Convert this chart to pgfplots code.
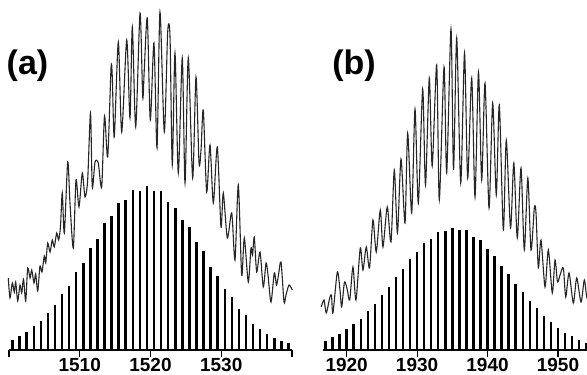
\documentclass[border=0pt]{standalone}
\usepackage{fontspec}
\setmainfont{Liberation Sans}
\usepackage{pgfplots}
\pgfplotsset{compat=1.18}
\pgfplotsset{
  panel/.style={
    scale only axis, height=350pt, ymin=0, ymax=350,
    anchor=south west, clip=false,
    axis y line=none, axis x line=bottom,
    x axis line style={-, line width=1.1pt},
    tick align=outside, major tick length=7pt,
    xtick style={line width=1.1pt, black},
    minor tick num=0,
    /pgf/number format/assume math mode=true,
    /pgf/number format/1000 sep={},
    xticklabel style={font=\fontsize{19}{22}\selectfont\bfseries, inner sep=0pt, yshift=-1pt},
  },
  trace/.style={black!85, line width=1.1pt, smooth, tension=0.45},
  sticks/.style={ycomb, black, line width=2.5pt},
}
\begin{document}
\begin{tikzpicture}
\useasboundingbox (0,0) rectangle (587pt,375pt);
% ---------------- panel (a)
\begin{axis}[panel, at={(9pt,25pt)}, width=283pt, xmin=1500, xmax=1540,
  xtick={1510,1520,1530}, extra x ticks={1500,1540}, extra x tick labels={}]
\addplot[sticks] coordinates {
(1500.5,10) (1501.5,14) (1502.5,18.3) (1503.5,24) (1504.5,28.7) (1505.5,37.3)
(1506.5,44.7) (1507.5,55.7) (1508.5,64.3) (1509.5,77.7) (1510.5,87) (1511.5,102)
(1512.5,111.3) (1513.5,126.7) (1514.5,134) (1515.5,146.7) (1516.5,150) (1517.5,159.7)
(1518.5,159) (1519.5,164.3) (1520.5,159) (1521.5,159) (1522.5,147.7) (1523.5,142)
(1524.5,130.3) (1525.5,123) (1526.5,107.7) (1527.5,99.3) (1528.5,83) (1529.5,74)
(1530.5,61) (1531.5,53) (1532.5,41.3) (1533.5,34.7) (1534.5,25.7) (1535.5,21)
(1536.5,15.7) (1537.5,12.3) (1538.5,9) (1539.5,6.7)};
\addplot[trace] coordinates {
(1499.90,72) (1500.14,52) (1500.47,67) (1500.75,58) (1500.95,68) (1501.23,49)
(1501.55,65) (1501.80,57) (1502.05,71) (1502.36,49) (1502.64,82) (1502.97,72)
(1503.21,80) (1503.53,67) (1503.77,76) (1504.06,59) (1504.38,84) (1504.66,78)
(1504.99,94) (1505.19,87) (1505.47,107) (1505.80,98) (1506.12,110) (1506.40,103)
(1506.74,117) (1507.02,110) (1507.28,124) (1507.53,157) (1507.82,117) (1508.30,188)
(1508.62,147) (1509.09,102) (1509.47,170) (1509.89,143) (1510.36,177) (1510.74,153)
(1511.12,170) (1511.52,237) (1511.77,163) (1512.16,188) (1512.62,187) (1513.10,163)
(1513.50,234) (1513.95,193) (1514.42,282) (1514.60,273) (1514.88,213) (1515.45,308)
(1515.93,218) (1516.64,310) (1517.10,232) (1517.43,323) (1517.91,223) (1518.52,337)
(1518.90,253) (1519.12,280) (1519.55,332) (1519.97,230) (1520.49,307) (1520.92,202)
(1521.34,338) (1521.95,218) (1522.43,318) (1522.76,313) (1523.08,185) (1523.46,297)
(1523.93,177) (1524.49,292) (1524.88,167) (1525.34,292) (1525.96,172) (1526.43,273)
(1526.86,187) (1527.14,200) (1527.46,240) (1527.94,158) (1528.41,205) (1528.88,147)
(1529.44,203) (1529.96,123) (1530.29,157) (1530.86,112) (1531.48,137) (1531.94,90)
(1532.41,165) (1532.89,75) (1533.26,112) (1533.82,68) (1534.20,102) (1534.42,95)
(1534.67,113) (1535.01,78) (1535.48,98) (1535.94,63) (1536.33,87) (1536.61,75)
(1537.03,48) (1537.50,77) (1537.81,65) (1538.09,75) (1538.45,88) (1538.87,48)
(1539.15,55) (1539.58,65) (1540.04,60)};
\end{axis}
% ---------------- panel (b)
\begin{axis}[panel, at={(323.3pt,25pt)}, width=263.7pt, xmin=1916.68, xmax=1954.12,
  xtick={1920,1930,1940,1950}]
\addplot[sticks] coordinates {
(1917,9.3) (1918,12.7) (1919,16.3) (1920,20.7) (1921,26) (1922,31.3) (1923,38.7)
(1924,46) (1925,55.3) (1926,62.7) (1927,73) (1928,81) (1929,90.7) (1930,98)
(1931,107) (1932,111) (1933,117.7) (1934,119) (1935,122) (1936,119.7) (1937,119.7)
(1938,113) (1939,109.7) (1940,100.7) (1941,93.7) (1942,83.7) (1943,76.3) (1944,66)
(1945,57.7) (1946,48.7) (1947,41.7) (1948,33.7) (1949,28.3) (1950,22) (1951,17.3)
(1952,13.7) (1953,10) (1954,7.3)};
\addplot[trace] coordinates {
(1916.39,43) (1916.78,50) (1917.10,37) (1917.59,52) (1917.84,55) (1918.05,37)
(1918.67,78) (1919.05,60) (1919.29,43) (1919.69,68) (1920.09,60) (1920.43,50)
(1920.89,83) (1921.32,50) (1921.93,102) (1922.31,80) (1922.78,103) (1923.24,82)
(1923.73,130) (1924.20,98) (1924.77,140) (1925.15,103) (1925.76,143) (1926.29,108)
(1926.76,180) (1927.21,117) (1927.71,191) (1928.28,127) (1928.66,217) (1929.23,137)
(1929.70,241) (1930.17,147) (1930.79,261) (1931.19,165) (1931.73,272) (1932.14,184)
(1932.78,285) (1933.15,150) (1933.82,283) (1934.20,177) (1934.81,321) (1935.17,180)
(1935.62,312) (1936.19,167) (1936.73,297) (1937.18,172) (1937.75,272) (1938.22,153)
(1938.71,278) (1939.17,170) (1939.64,267) (1940.21,142) (1940.73,247) (1941.24,155)
(1941.67,245) (1942.24,120) (1942.66,210) (1943.26,122) (1943.73,187) (1944.22,112)
(1944.75,182) (1945.22,100) (1945.72,172) (1946.17,100) (1946.64,142) (1946.88,137)
(1947.21,82) (1947.59,110) (1948.16,63) (1948.63,100) (1949.19,57) (1949.58,90)
(1949.93,68) (1950.29,75) (1950.76,82) (1951.10,53) (1951.57,77) (1952.18,47)
(1952.66,72) (1953.27,48) (1953.74,70) (1954.12,52) (1954.55,65)};
\end{axis}
\node[font=\fontsize{34}{38}\selectfont\bfseries] at (27.5pt,309pt) {(a)};
\node[font=\fontsize{34}{38}\selectfont\bfseries] at (354pt,309pt) {(b)};
\end{tikzpicture}
\end{document}
